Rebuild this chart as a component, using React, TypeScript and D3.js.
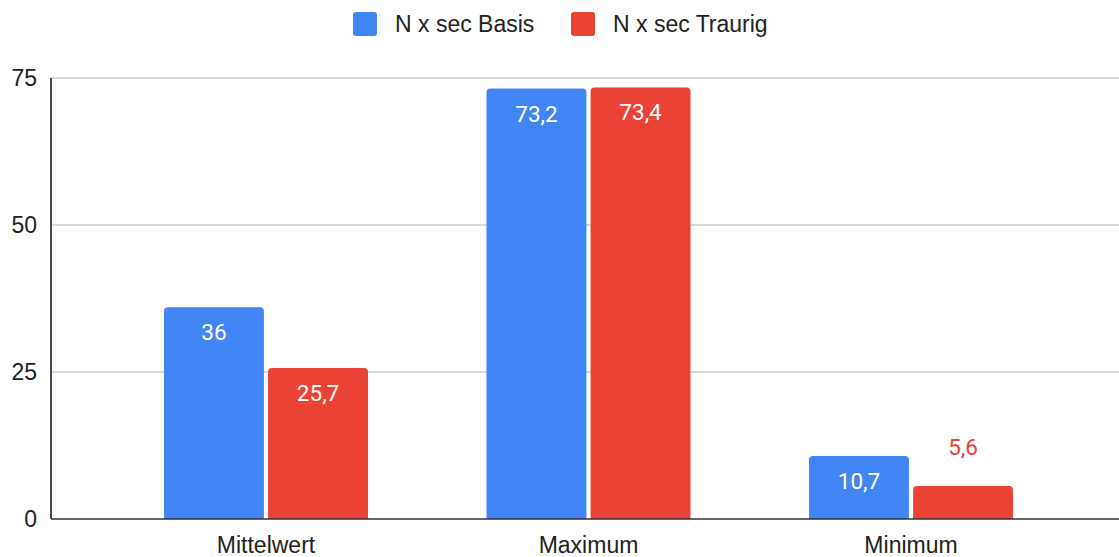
import React from "react";
import * as d3 from "d3";

const categories = ["Mittelwert", "Maximum", "Minimum"];
const seriesNames = ["N x sec Basis", "N x sec Traurig"];
const basisValues = [36, 73.2, 10.7];
const traurigValues = [25.7, 73.4, 5.6];
const yTicks = [0, 25, 50, 75];
const colors = ["#4285F4", "#EA4335"];

const W = 1119;
const H = 557;
const plotLeft = 51;
const plotRight = 1119;
const plotTop = 78;
const plotBottom = 519;

const fmt = (v: number) => String(v).replace(".", ",");

function topRoundedBar(x: number, y: number, w: number, h: number, r: number) {
  const rr = Math.min(r, h, w / 2);
  return `M${x},${y + h}V${y + rr}Q${x},${y} ${x + rr},${y}H${x + w - rr}Q${x + w},${y} ${x + w},${y + rr}V${y + h}Z`;
}

export default function App() {
  const y = d3.scaleLinear().domain([0, 75]).range([plotBottom, plotTop]);
  const x0 = d3.scaleBand<string>().domain(categories).range([104.75, 1072.25]).padding(0);
  const groupW = 204;
  const x1 = d3
    .scaleBand<string>()
    .domain(seriesNames)
    .range([(x0.bandwidth() - groupW) / 2, (x0.bandwidth() + groupW) / 2])
    .paddingInner(0.04);

  const seriesValues = [basisValues, traurigValues];
  const legendX = [353, 571];

  return (
    <svg width={W} height={H} style={{ position: "absolute", left: 0, top: 0, background: "#fff" }}>
      {/* legend */}
      <g fontFamily="'Liberation Sans', Arial, sans-serif" fontSize={23} fill="#222">
        {seriesNames.map((s, i) => (
          <g key={s}>
            <rect x={legendX[i]} y={12} width={24} height={24} rx={3} fill={colors[i]} />
            <text x={legendX[i] + 42} y={32}>{s}</text>
          </g>
        ))}
      </g>

      {/* grid */}
      {yTicks.filter((t) => t > 0).map((t) => (
        <line key={t} x1={plotLeft} x2={plotRight} y1={y(t)} y2={y(t)} stroke="#cccccc" strokeWidth={1.5} />
      ))}

      {/* y tick labels */}
      <g fontFamily="'Liberation Sans', Arial, sans-serif" fontSize={23} fill="#222" textAnchor="end">
        {yTicks.map((t) => (
          <text key={t} x={37} y={y(t)} dy="0.35em">{t}</text>
        ))}
      </g>

      {/* bars */}
      {categories.map((c, ci) => (
        <g key={c} transform={`translate(${x0(c)},0)`}>
          {seriesNames.map((s, si) => {
            const v = seriesValues[si][ci];
            const bx = x1(s)!;
            const bw = x1.bandwidth();
            const by = y(v);
            const bh = y(0) - by;
            const inside = bh >= 40;
            return (
              <g key={s}>
                <path d={topRoundedBar(bx, by, bw, bh, 4)} fill={colors[si]} />
                <text
                  x={bx + bw / 2}
                  y={inside ? by + 33 : by - 31}
                  textAnchor="middle"
                  fontFamily="Roboto, sans-serif"
                  fontSize={22.5}
                  fill={inside ? "#ffffff" : colors[si]}
                >
                  {fmt(v)}
                </text>
              </g>
            );
          })}
        </g>
      ))}

      {/* axes */}
      <line x1={plotLeft} x2={plotLeft} y1={plotTop} y2={plotBottom} stroke="#111" strokeWidth={1.5} />
      <line x1={plotLeft} x2={plotRight} y1={plotBottom} y2={plotBottom} stroke="#333" strokeWidth={1.5} />

      {/* category labels */}
      <g fontFamily="'Liberation Sans', Arial, sans-serif" fontSize={23} fill="#222" textAnchor="middle">
        {categories.map((c) => (
          <text key={c} x={x0(c)! + x0.bandwidth() / 2} y={553}>{c}</text>
        ))}
      </g>
    </svg>
  );
}
